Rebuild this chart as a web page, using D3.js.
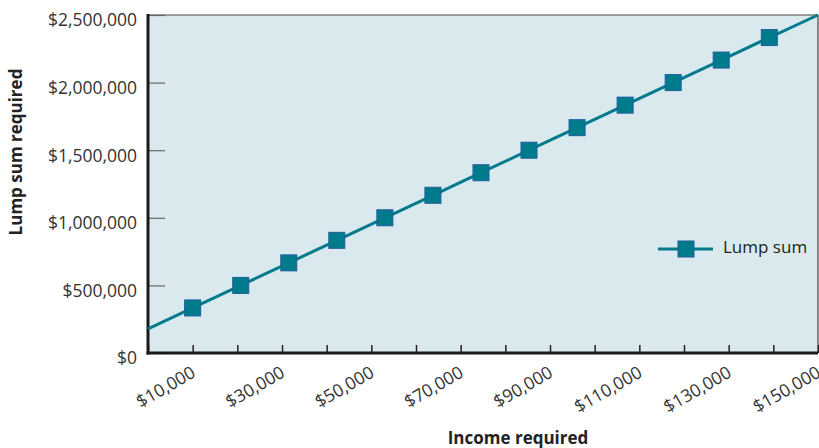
<!DOCTYPE html>
<html>
<head>
<meta charset="utf-8">
<script src="https://cdn.jsdelivr.net/npm/d3@7"></script>
<style>
  body { margin: 0; background: #fff; }
  text { font-family: "Open Sans", "Noto Sans", sans-serif; }
</style>
</head>
<body>
<div id="chart"></div>
<script>
// Lump sum required vs income required

var markerIncome = [10000, 20760, 31520, 42270, 53030, 63790, 74550, 85300, 96060, 106820, 117580, 128330, 139100];
var lumpSum = [333333, 500000, 666667, 833333, 1000000, 1166667, 1333333, 1500000, 1666667, 1833333, 2000000, 2166667, 2333333];
var lineEndIncome = [0, 150000];
var lineEndSum = [178000, 2500000];
var xTicks = [0, 10000, 20000, 30000, 40000, 50000, 60000, 70000, 80000, 90000, 100000, 110000, 120000, 130000, 140000, 150000];
var xLabels = [10000, 30000, 50000, 70000, 90000, 110000, 130000, 150000];
var yTicks = [0, 500000, 1000000, 1500000, 2000000, 2500000];
var seriesName = "Lump sum";

var width = 819,
    height = 448,
    margin = { left: 148, right: 1, top: 15, bottom: 95 };

var svg = d3.select("#chart").append("svg")
  .attr("width", width)
  .attr("height", height);

var x = d3.scaleLinear().domain([0, 150000]).range([margin.left, width - margin.right]);
var y = d3.scaleLinear().domain([0, 2500000]).range([height - margin.bottom, margin.top]);
var money = d3.format("$,");

var teal = "#007b8c";

// plot background
svg.append("rect")
  .attr("x", x(0)).attr("y", y(2500000))
  .attr("width", x(150000) - x(0))
  .attr("height", y(0) - y(2500000))
  .attr("fill", "#d9e9ee");

// top and right border
svg.append("line")
  .attr("x1", x(0)).attr("x2", x(150000))
  .attr("y1", y(2500000)).attr("y2", y(2500000))
  .attr("stroke", "#7f7f7f").attr("stroke-width", 1.5);
svg.append("line")
  .attr("x1", x(150000)).attr("x2", x(150000))
  .attr("y1", y(2500000)).attr("y2", y(0))
  .attr("stroke", "#444").attr("stroke-width", 1.2);

// y axis
var yAxis = svg.append("g")
  .attr("transform", "translate(" + x(0) + ",0)")
  .call(d3.axisRight(y).tickValues(yTicks).tickSize(17).tickFormat(""));
yAxis.select(".domain").remove();
yAxis.selectAll(".tick line").attr("stroke", "#666").attr("stroke-width", 1.2);

svg.selectAll(".ylabel")
  .data(yTicks)
  .enter().append("text")
  .attr("class", "ylabel")
  .attr("x", 137)
  .attr("y", function(d) { return y(d) + 5; })
  .attr("dy", "0.36em")
  .attr("text-anchor", "end")
  .attr("font-size", 17.5)
  .attr("fill", "#333")
  .text(function(d) { return money(d); });

// x axis ticks
var xAxis = svg.append("g")
  .attr("transform", "translate(0," + y(0) + ")")
  .call(d3.axisTop(x).tickValues(xTicks).tickSize(8).tickFormat(""));
xAxis.select(".domain").remove();
xAxis.selectAll(".tick line").attr("stroke", "#222").attr("stroke-width", 1.5);

svg.selectAll(".xlabel")
  .data(xLabels)
  .enter().append("text")
  .attr("class", "xlabel")
  .attr("transform", function(d) { return "translate(" + (x(d) + 4) + "," + (y(0) + 23) + ") rotate(-30)"; })
  .attr("text-anchor", "end")
  .attr("font-size", 17.5)
  .attr("fill", "#333")
  .text(function(d) { return money(d); });

// axis lines
svg.append("line")
  .attr("x1", x(0)).attr("x2", x(0))
  .attr("y1", y(2500000) - 1).attr("y2", y(0) + 1.5)
  .attr("stroke", "#1a1a1a").attr("stroke-width", 3);
svg.append("line")
  .attr("x1", x(0) - 1.5).attr("x2", x(150000))
  .attr("y1", y(0)).attr("y2", y(0))
  .attr("stroke", "#1a1a1a").attr("stroke-width", 3);

// series line
var pts = markerIncome.map(function(d, i) { return [d, lumpSum[i]]; });
var linePts = [[lineEndIncome[0], lineEndSum[0]]].concat(pts).concat([[lineEndIncome[1], lineEndSum[1]]]);

svg.append("path")
  .datum(linePts)
  .attr("fill", "none")
  .attr("stroke", teal)
  .attr("stroke-width", 3)
  .attr("d", d3.line().x(function(d) { return x(d[0]); }).y(function(d) { return y(d[1]); }));

var ms = 16;
svg.selectAll(".marker")
  .data(pts)
  .enter().append("rect")
  .attr("class", "marker")
  .attr("x", function(d) { return x(d[0]) - ms / 2; })
  .attr("y", function(d) { return y(d[1]) - ms / 2; })
  .attr("width", ms).attr("height", ms)
  .attr("fill", teal)
  .attr("stroke", "#1f5e9a")
  .attr("stroke-width", 1);

// legend
var lg = svg.append("g").attr("transform", "translate(658,249)");
lg.append("line").attr("x1", 0).attr("x2", 55).attr("y1", 0).attr("y2", 0)
  .attr("stroke", teal).attr("stroke-width", 3);
lg.append("rect").attr("x", 28 - ms / 2).attr("y", -ms / 2).attr("width", ms).attr("height", ms)
  .attr("fill", teal).attr("stroke", "#1f5e9a").attr("stroke-width", 1);
lg.append("text").attr("x", 65).attr("y", -2).attr("dy", "0.36em")
  .attr("font-size", 17).attr("fill", "#222").text(seriesName);

// axis titles
svg.append("text")
  .attr("transform", "translate(22,152) rotate(-90)")
  .attr("text-anchor", "middle")
  .attr("font-size", 17)
  .attr("font-weight", "bold")
  .attr("fill", "#222")
  .text("Lump sum required");

svg.append("text")
  .attr("x", 518).attr("y", 444)
  .attr("text-anchor", "middle")
  .attr("font-size", 17)
  .attr("font-weight", "bold")
  .attr("fill", "#222")
  .text("Income required");
</script>
</body>
</html>
